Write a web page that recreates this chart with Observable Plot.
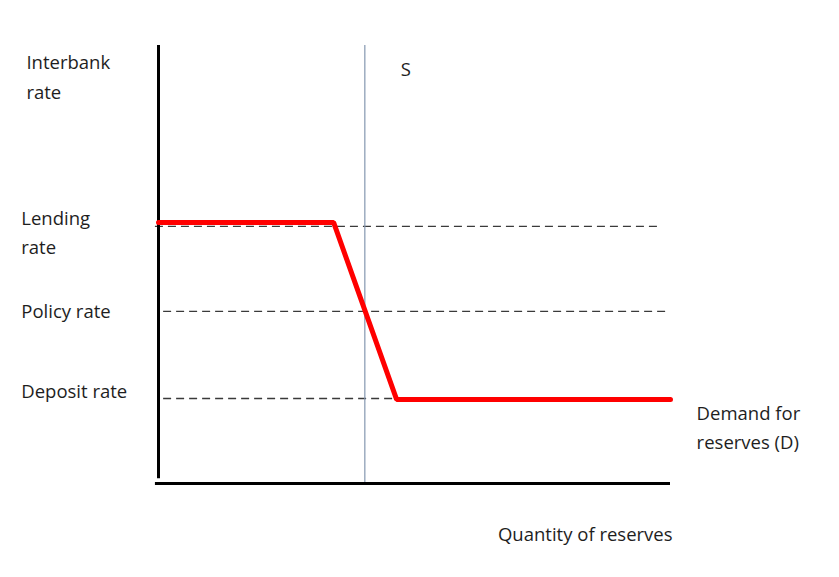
<!DOCTYPE html>
<html>
<head>
<meta charset="utf-8">
<script src="https://cdn.jsdelivr.net/npm/d3@7"></script>
<script src="https://cdn.jsdelivr.net/npm/@observablehq/plot@0.6"></script>
<style>
  html, body { margin: 0; padding: 0; background: #fff; }
</style>
</head>
<body>
<div id="chart"></div>
<script>
// Demand for reserves (D): quantity vs interbank rate (schematic units 0–100)
const demandQ = [0, 34.2, 46.5, 100];
const demandRate = [59.6, 59.6, 19.2, 19.2];

// Policy corridor rates (dashed guides)
const rateNames = ["Lending\nrate", "Policy rate", "Deposit rate"];
const rateLevels = [58.7, 39.3, 19.4];
const rateLabelY = [57.9, 40.0, 21.7];
const dashStart = [-0.6, 1, 1];
const dashEnd = [98, 99.6, 46.5];

// Supply of reserves (S) — vertical
const supplyQ = 40.3;

// Text labels
const axisYTitle = "Interbank\nrate";
const axisXTitle = "Quantity of reserves";
const demandLabel = "Demand for\nreserves (D)";
const supplyLabel = "S";

const demand = demandQ.map((q, i) => ({q, r: demandRate[i]}));
const rates = rateNames.map((name, i) => ({name, level: rateLevels[i], ly: rateLabelY[i], x1: dashStart[i], x2: dashEnd[i]}));

const textColor = "#1e1e1e";
const fs = 18.5;

const chart = Plot.plot({
  width: 839,
  height: 577,
  marginLeft: 158,
  marginRight: 169,
  marginTop: 45,
  marginBottom: 94,
  x: {domain: [0, 100], axis: null},
  y: {domain: [0, 100], axis: null},
  style: {fontFamily: "'Open Sans', sans-serif", fontSize: "18px", background: "#fff", overflow: "visible"},
  marks: [
    // dashed rate guides
    Plot.ruleY(rates, {y: "level", x1: "x1", x2: "x2", stroke: "#3a3a3a", strokeWidth: 1.4, strokeDasharray: "8,5"}),
    // supply line
    Plot.ruleX([supplyQ], {y1: 0, y2: 100, stroke: "#8497b0", strokeWidth: 1.2}),
    // axes
    Plot.ruleX([0], {y1: 1.1, y2: 100, stroke: "#000", strokeWidth: 3}),
    Plot.ruleY([0], {x1: -0.6, x2: 100, stroke: "#000", strokeWidth: 3}),
    // demand curve
    Plot.line(demand, {x: "q", y: "r", stroke: "#ff0000", strokeWidth: 5, strokeLinejoin: "miter"}),
    // labels
    Plot.text(rates, {x: -26.8, y: "ly", text: "name", textAnchor: "start", lineAnchor: "middle", lineHeight: 1.58, fill: textColor, fontSize: fs}),
    Plot.text([axisYTitle], {x: -25.8, y: 93.4, text: d => d, textAnchor: "start", lineAnchor: "middle", lineHeight: 1.62, fill: textColor, fontSize: fs}),
    Plot.text([demandLabel], {x: 105.1, y: 13.4, text: d => d, textAnchor: "start", lineAnchor: "middle", lineHeight: 1.58, fill: textColor, fontSize: fs}),
    Plot.text([axisXTitle], {x: 66.3, y: -11.7, text: d => d, textAnchor: "start", lineAnchor: "middle", fill: textColor, fontSize: fs}),
    Plot.text([supplyLabel], {x: 47.3, y: 94.3, text: d => d, textAnchor: "start", lineAnchor: "middle", fill: textColor, fontSize: fs})
  ]
});
document.getElementById("chart").appendChild(chart);
</script>
</body>
</html>
